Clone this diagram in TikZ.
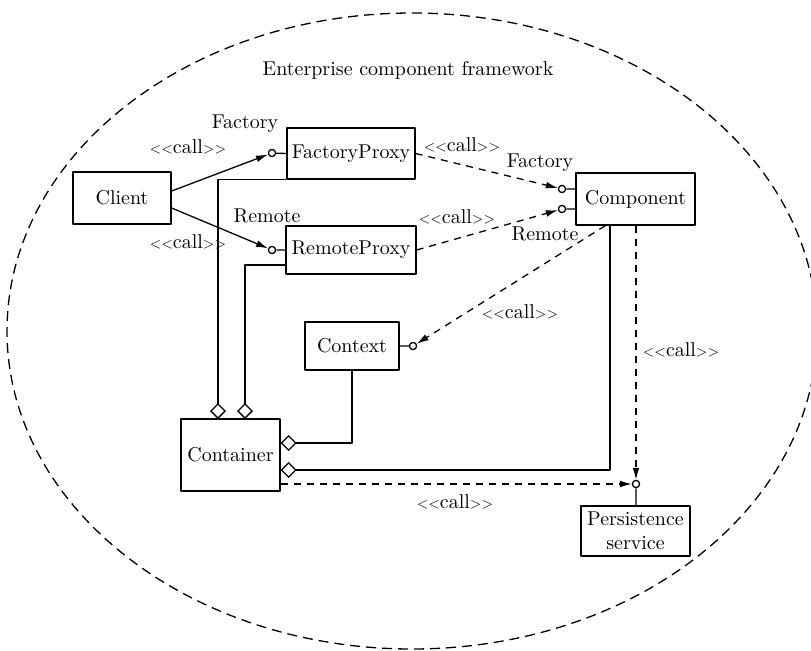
\documentclass[tikz,border=0pt]{standalone}
\usepackage{graphicx}
\usetikzlibrary{arrows.meta}
\newcommand{\lt}{\scalebox{0.74}{<}}
\newcommand{\gt}{\scalebox{0.74}{>}}
\newcommand{\callst}{\lt\lt call\gt\gt}
\tikzset{
	box/.style={draw, inner sep=1pt, align=center},
	lolli/.style={draw, circle, fill=white, inner sep=0pt, minimum size=3.6pt},
	dep/.style={dash pattern=on 3.5pt off 3pt, ->},
	comp/.style={{Diamond[open,length=8pt,width=8pt]}-},
}
\begin{document}
\begin{tikzpicture}[x=0.5pt, y=-0.5pt, >={Latex[length=6pt,width=3.4pt]}, line width=0.65pt, line join=round]
	\useasboundingbox (0,0) rectangle (811,650);
	\draw[dash pattern=on 5pt off 3pt] (412,331) ellipse [x radius=202.5pt, y radius=159pt];
	\node (title) at (408,70) {Enterprise component framework};
	% boxes
	\node[box, minimum width=49pt, minimum height=26pt] (client) at (122,198) {Client};
	\node[box, minimum width=64pt, minimum height=25.5pt] (fp) at (351,153.5) {FactoryProxy};
	\node[box, minimum width=65pt, minimum height=24pt] (rp) at (351,250) {RemoteProxy};
	\node[box, minimum width=59.5pt, minimum height=26pt] (comp) at (635.5,199) {Component};
	\node[box, minimum width=47pt, minimum height=24pt] (ctx) at (352,346) {Context};
	\node[box, minimum width=49.5pt, minimum height=36pt] (cont) at (230.5,455) {Container};
	\node[box, minimum width=54.5pt, minimum height=25pt] (ps) at (635.5,531) {Persistence\\service};
	% interfaces
	\foreach \n/\p in {fpI/{272,153}, rpI/{272,250}, cfI/{562,189}, crI/{562,209}, ctxI/{413,346}, psI/{636,484}}
	\node[lolli] (\n) at (\p) {};
	\draw (fpI)--(fp.west) (rpI)--(rp.west) (cfI)--(cfI-|comp.west) (crI)--(crI-|comp.west)
	(ctxI)--(ctx.east) (psI)--(psI|-ps.north);
	% diamond ends on the container
	\path
	(218,419) coordinate (d1)
	(245,419) coordinate (d2)
	(cont.east |- 0,443) coordinate (d3)
	(cont.east |- 0,470) coordinate (d4)
	;
	\draw[comp] (d1) |- (fp.south west);
	\draw[comp] (d2) |- ([yshift=-7.5pt]rp.west);
	\draw[comp] (d3) -| (ctx.south);
	\draw[comp] (d4) -| ([xshift=-12.75pt]comp.south);
	% calls
	\draw[->] ([yshift=3.5pt]client.east) -- (fpI);
	\draw[->] ([yshift=-5pt]client.east) -- (rpI);
	\draw[dep] (fp.east) -- (cfI);
	\draw[dep] (rp.east) -- (crI);
	\draw[dep] ([xshift=15pt]comp.south west) -- (ctxI);
	\draw[dep] (comp.south -| psI) -- (psI);
	\draw[dep] (cont.east |- psI) -- (psI);
	% labels
	\node (lbFa) at (245,124) {Factory};
	\node (lbRa) at (267,216) {Remote};
	\node (lbFb) at (540,163) {Factory};
	\node (lbRb) at (545,234) {Remote};
	\foreach \n/\p in {c1/{188,147}, c2/{188,242}, c3/{462,145}, c4/{457,217}, c5/{520,312}, c6/{681,350}, c7/{455,502}}
	\node (\n) at (\p) {\callst};
\end{tikzpicture}
\end{document}
